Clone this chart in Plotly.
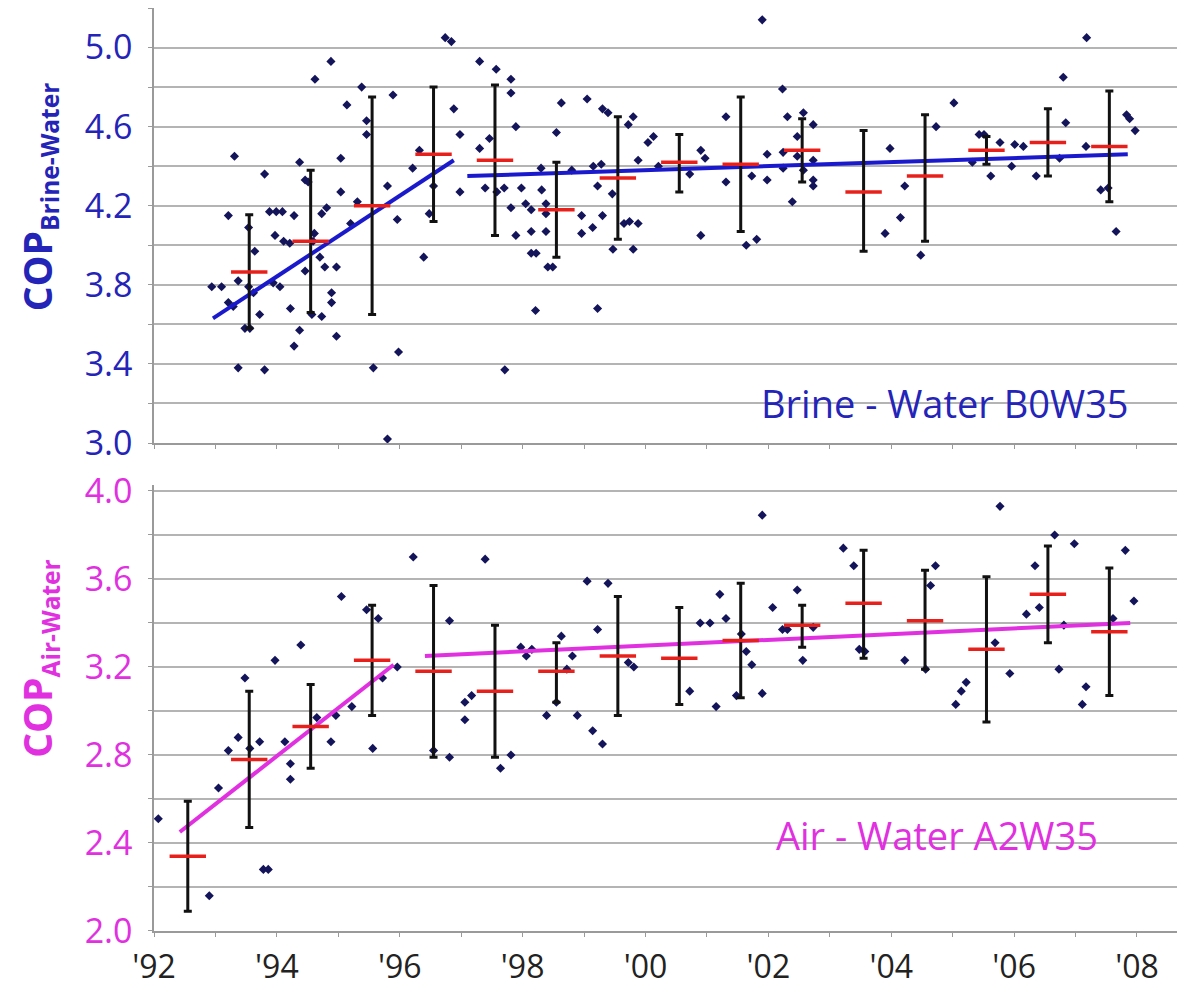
import plotly.graph_objects as go

# ---------------- data ----------------
# Brine-Water (top panel): individual test results (decimal year, COP)
bw_year = [1992.94, 1993.10, 1993.21, 1993.31, 1993.21, 1993.29, 1993.37, 1993.37, 1993.54, 1993.64,
           1993.54, 1993.62, 1993.48, 1993.56, 1993.72, 1993.80, 1993.80, 1993.88, 1993.99, 1994.09,
           1993.94, 1994.05, 1993.97, 1994.11, 1994.21, 1994.22, 1994.28, 1994.28, 1994.37, 1994.37,
           1994.46, 1994.51, 1994.46, 1994.61, 1994.59, 1994.62, 1994.57, 1994.73, 1994.73, 1994.81,
           1994.70, 1994.78, 1994.97, 1994.89, 1994.89, 1994.88, 1994.97, 1995.04, 1995.04, 1995.14,
           1995.20, 1995.31, 1995.38, 1995.46, 1995.46, 1995.57, 1995.80, 1995.80, 1995.89, 1995.96,
           1995.98, 1996.21, 1996.32, 1996.39, 1996.48, 1996.55, 1996.74, 1996.84, 1996.88, 1996.98,
           1996.98, 1997.30, 1997.30, 1997.39, 1997.46, 1997.57, 1997.58, 1997.70, 1997.81, 1997.81,
           1997.89, 1997.81, 1997.89, 1997.71, 1997.98, 1998.05, 1998.14, 1998.14, 1998.14, 1998.22,
           1998.21, 1998.30, 1998.31, 1998.38, 1998.38, 1998.41, 1998.49, 1998.38, 1998.63, 1998.55,
           1998.80, 1998.96, 1998.96, 1999.05, 1999.14, 1999.22, 1999.22, 1999.30, 1999.28, 1999.15,
           1999.30, 1999.39, 1999.46, 1999.47, 1999.65, 1999.74, 1999.88, 1999.72, 1999.80, 1999.80,
           1999.88, 2000.04, 2000.13, 2000.21, 2000.72, 2000.90, 2000.97, 2000.90, 2001.31, 2001.31,
           2001.64, 2001.81, 2001.73, 2001.90, 2001.98, 2001.98, 2002.23, 2002.31, 2002.39, 2002.47,
           2002.47, 2002.24, 2002.24, 2002.57, 2002.57, 2002.73, 2002.73, 2002.73, 2002.73, 2003.98,
           2004.22, 2004.15, 2003.90, 2004.48, 2004.73, 2005.02, 2005.32, 2005.43, 2005.51, 2005.62,
           2005.77, 2005.96, 2006.01, 2006.15, 2006.36, 2006.80, 2006.84, 2006.74, 2007.18, 2007.17,
           2007.41, 2007.53, 2007.66, 2007.83, 2007.88, 2007.97]
bw_cop = [3.79, 3.79, 4.15, 4.45, 3.71, 3.69, 3.38, 3.82, 4.09, 3.97,
          3.79, 3.76, 3.58, 3.58, 3.65, 4.36, 3.37, 4.17, 4.17, 4.17,
          3.81, 3.79, 4.05, 4.02, 4.01, 3.68, 4.15, 3.49, 4.42, 3.57,
          4.33, 4.32, 3.87, 4.06, 4.02, 4.84, 3.65, 3.64, 4.16, 4.19,
          3.94, 3.89, 3.89, 3.76, 3.71, 4.93, 3.54, 4.44, 4.27, 4.71,
          4.11, 4.22, 4.80, 4.63, 4.56, 3.38, 4.30, 3.02, 4.76, 4.13,
          3.46, 4.39, 4.48, 3.94, 4.16, 4.30, 5.05, 5.03, 4.69, 4.56,
          4.27, 4.93, 4.49, 4.29, 4.54, 4.89, 4.27, 4.29, 4.84, 4.77,
          4.60, 4.19, 4.05, 3.37, 4.29, 4.21, 4.18, 4.07, 3.96, 3.96,
          3.67, 4.39, 4.28, 4.21, 4.07, 3.89, 3.89, 4.16, 4.72, 4.57,
          4.38, 4.15, 4.06, 4.74, 4.09, 3.68, 4.30, 4.15, 4.41, 4.40,
          4.69, 4.67, 4.26, 3.98, 4.11, 4.12, 4.11, 4.61, 4.65, 3.98,
          4.43, 4.52, 4.55, 4.40, 4.36, 4.48, 4.44, 4.05, 4.65, 4.32,
          4.00, 4.03, 4.35, 5.14, 4.46, 4.33, 4.79, 4.65, 4.22, 4.55,
          4.45, 4.47, 4.39, 4.67, 4.38, 4.61, 4.43, 4.33, 4.30, 4.49,
          4.30, 4.14, 4.06, 3.95, 4.60, 4.72, 4.42, 4.56, 4.56, 4.35,
          4.52, 4.40, 4.51, 4.50, 4.35, 4.85, 4.62, 4.44, 5.05, 4.50,
          4.28, 4.29, 4.07, 4.66, 4.64, 4.58]

# Brine-Water yearly statistics
bw_stat_year = [1993.55, 1994.55, 1995.55, 1996.55, 1997.55, 1998.55, 1999.55, 2000.55,
                2001.55, 2002.55, 2003.55, 2004.55, 2005.55, 2006.55, 2007.55]
bw_mean = [3.865, 4.02, 4.20, 4.46, 4.43, 4.18, 4.34, 4.42, 4.41, 4.48, 4.27, 4.35, 4.48, 4.52, 4.50]
bw_upper = [4.155, 4.38, 4.75, 4.80, 4.81, 4.42, 4.65, 4.56, 4.75, 4.64, 4.58, 4.66, 4.55, 4.69, 4.78]
bw_lower = [3.58, 3.66, 3.65, 4.12, 4.05, 3.94, 4.03, 4.27, 4.07, 4.32, 3.97, 4.02, 4.41, 4.35, 4.22]

# Brine-Water trend lines (start, end)
bw_trend1_x = [1992.96, 1996.88]
bw_trend1_y = [3.63, 4.43]
bw_trend2_x = [1997.10, 2007.85]
bw_trend2_y = [4.35, 4.46]

# Air-Water (bottom panel): individual test results
aw_year = [1992.07, 1992.90, 1993.05, 1993.21, 1993.37, 1993.48, 1993.56, 1993.72, 1993.78, 1993.86,
           1993.97, 1994.13, 1994.22, 1994.22, 1994.39, 1994.65, 1994.88, 1994.96, 1995.05, 1995.22,
           1995.46, 1995.65, 1995.56, 1995.72, 1995.96, 1996.22, 1996.81, 1996.55, 1996.81, 1997.06,
           1997.17, 1997.06, 1997.39, 1997.64, 1997.81, 1997.97, 1998.06, 1998.15, 1998.39, 1998.55,
           1998.63, 1998.72, 1998.81, 1998.89, 1999.05, 1999.14, 1999.22, 1999.30, 1999.39, 1999.72,
           1999.81, 2000.72, 2000.89, 2001.05, 2001.15, 2001.21, 2001.31, 2001.48, 2001.56, 2001.64,
           2001.73, 2001.90, 2001.90, 2002.07, 2002.23, 2002.31, 2002.47, 2002.56, 2002.73, 2003.22,
           2003.39, 2003.48, 2003.57, 2004.22, 2004.56, 2004.64, 2004.72, 2005.05, 2005.14, 2005.22,
           2005.69, 2005.77, 2005.93, 2006.20, 2006.41, 2006.34, 2006.66, 2006.73, 2006.81, 2006.98,
           2007.11, 2007.17, 2007.61, 2007.81, 2007.95]
aw_cop = [2.51, 2.16, 2.65, 2.82, 2.88, 3.15, 2.83, 2.86, 2.28, 2.28,
          3.23, 2.86, 2.76, 2.69, 3.30, 2.97, 2.86, 2.98, 3.52, 3.02,
          3.46, 3.42, 2.83, 3.15, 3.20, 3.70, 3.41, 2.82, 2.79, 3.04,
          3.07, 2.96, 3.69, 2.74, 2.80, 3.29, 3.25, 3.28, 2.98, 3.04,
          3.34, 3.19, 3.25, 2.98, 3.59, 2.91, 3.37, 2.85, 3.58, 3.22,
          3.20, 3.09, 3.40, 3.40, 3.02, 3.53, 3.42, 3.07, 3.35, 3.27,
          3.21, 3.89, 3.08, 3.47, 3.37, 3.37, 3.55, 3.23, 3.38, 3.74,
          3.66, 3.28, 3.27, 3.23, 3.19, 3.57, 3.66, 3.03, 3.09, 3.13,
          3.31, 3.93, 3.17, 3.44, 3.47, 3.66, 3.80, 3.19, 3.39, 3.76,
          3.03, 3.11, 3.42, 3.73, 3.50]

# Air-Water yearly statistics
aw_stat_year = [1992.55, 1993.55, 1994.55, 1995.55, 1996.55, 1997.55, 1998.55, 1999.55,
                2000.55, 2001.55, 2002.55, 2003.55, 2004.55, 2005.55, 2006.55, 2007.55]
aw_mean = [2.34, 2.78, 2.93, 3.23, 3.18, 3.09, 3.18, 3.25, 3.24, 3.32, 3.39, 3.49, 3.41, 3.28, 3.53, 3.36]
aw_upper = [2.59, 3.09, 3.12, 3.48, 3.57, 3.39, 3.31, 3.52, 3.47, 3.58, 3.48, 3.73, 3.64, 3.61, 3.75, 3.65]
aw_lower = [2.09, 2.47, 2.74, 2.98, 2.79, 2.79, 3.04, 2.98, 3.03, 3.06, 3.29, 3.24, 3.19, 2.95, 3.31, 3.07]

# Air-Water trend lines
aw_trend1_x = [1992.42, 1995.90]
aw_trend1_y = [2.45, 3.21]
aw_trend2_x = [1996.41, 2007.89]
aw_trend2_y = [3.25, 3.40]

# axis ticks (labelled major ticks + unlabelled minor ticks)
year_ticks = [1992, 1994, 1996, 1998, 2000, 2002, 2004, 2006, 2008]
year_labels = ["'92", "'94", "'96", "'98", "'00", "'02", "'04", "'06", "'08"]
year_minor = [1993, 1995, 1997, 1999, 2001, 2003, 2005, 2007]
bw_ticks = [3.0, 3.4, 3.8, 4.2, 4.6, 5.0]
bw_labels = ["3.0", "3.4", "3.8", "4.2", "4.6", "5.0"]
bw_minor = [3.2, 3.6, 4.0, 4.4, 4.8, 5.2]
aw_ticks = [2.0, 2.4, 2.8, 3.2, 3.6, 4.0]
aw_labels = ["2.0", "2.4", "2.8", "3.2", "3.6", "4.0"]
aw_minor = [2.2, 2.6, 3.0, 3.4, 3.8]

# ---------------- styling ----------------
FONT = "Open Sans"
BLUE = "#2424b8"
LINE_BLUE = "#1a1acc"
MAGENTA = "#e030e0"
DOT = "#14145a"
RED = "#e8201c"
GRID = "#b4b4b4"
AXIS = "#9a9a9a"

fig = go.Figure()


def add_panel(xa, ya, yr, val, sy, smean, sup, slo, t1x, t1y, t2x, t2y, lcolor):
    fig.add_trace(go.Scatter(x=yr, y=val, mode="markers", xaxis=xa, yaxis=ya,
                             marker=dict(symbol="diamond", size=7, color=DOT),
                             showlegend=False, hoverinfo="x+y"))
    for tx, ty in ((t1x, t1y), (t2x, t2y)):
        fig.add_trace(go.Scatter(x=tx, y=ty, mode="lines", xaxis=xa, yaxis=ya,
                                 line=dict(color=lcolor, width=4), showlegend=False))
    fig.add_trace(go.Scatter(
        x=sy, y=smean, mode="markers", xaxis=xa, yaxis=ya,
        marker=dict(size=1, color="rgba(0,0,0,0)"),
        error_y=dict(type="data", symmetric=False,
                     array=[u - m for u, m in zip(sup, smean)],
                     arrayminus=[m - l for m, l in zip(smean, slo)],
                     color="#111111", thickness=3, width=4),
        showlegend=False))
    fig.add_trace(go.Scatter(x=sy, y=smean, mode="markers", xaxis=xa, yaxis=ya,
                             marker=dict(symbol="line-ew", size=26,
                                         line=dict(color=RED, width=3.5)),
                             showlegend=False))


add_panel("x", "y", bw_year, bw_cop, bw_stat_year, bw_mean, bw_upper, bw_lower,
          bw_trend1_x, bw_trend1_y, bw_trend2_x, bw_trend2_y, LINE_BLUE)
add_panel("x2", "y2", aw_year, aw_cop, aw_stat_year, aw_mean, aw_upper, aw_lower,
          aw_trend1_x, aw_trend1_y, aw_trend2_x, aw_trend2_y, MAGENTA)

xcommon = dict(range=[1992, 2008.70], tickmode="array", tickvals=year_ticks, ticktext=year_labels,
               showgrid=False, zeroline=False, showline=True, linecolor=AXIS, linewidth=1.5,
               ticks="outside", ticklen=4, tickcolor=AXIS, automargin=False,
               minor=dict(tickmode="array", tickvals=year_minor, ticks="outside", ticklen=4,
                          tickcolor=AXIS, showgrid=False))


def ycommon(minor_vals):
    return dict(showgrid=True, gridcolor=GRID, gridwidth=1.8, zeroline=False,
                showline=True, linecolor=AXIS, linewidth=1.5, automargin=False,
                ticks="outside", ticklen=4, tickcolor=AXIS, ticklabelstandoff=9,
                tickmode="array",
                minor=dict(tickmode="array", tickvals=minor_vals, ticks="outside", ticklen=4,
                           tickcolor=AXIS, showgrid=True, gridcolor=GRID, gridwidth=1.8))


# the page body adds an 8px offset, so the figure is 8px smaller than the window
fig.update_layout(
    width=1177, height=983,
    margin=dict(l=146, r=5, t=0, b=60, autoexpand=False),
    paper_bgcolor="white", plot_bgcolor="white",
    font=dict(family=FONT),
    xaxis=dict(domain=[0, 1], anchor="y", showticklabels=False, **xcommon),
    yaxis=dict(domain=[0.5287, 1], anchor="x", range=[3.0, 5.2], tickvals=bw_ticks,
               ticktext=bw_labels, tickfont=dict(size=34, color=BLUE, family=FONT), **ycommon(bw_minor)),
    xaxis2=dict(domain=[0, 1], anchor="y2", showticklabels=True,
                tickfont=dict(size=32, color="#222222", family=FONT), ticklabelstandoff=3, **xcommon),
    yaxis2=dict(domain=[0, 0.4832], anchor="x2", range=[2.0, 4.027], tickvals=aw_ticks,
                ticktext=aw_labels, tickfont=dict(size=34, color=MAGENTA, family=FONT), **ycommon(aw_minor)),
    showlegend=False,
)

fig.add_annotation(text="<b><span style='font-size:39px'>COP</span><sub>Brine-Water</sub></b>",
                   xref="paper", yref="paper",
                   x=-0.113, y=0.795, xanchor="center", yanchor="middle", textangle=-90,
                   showarrow=False, font=dict(size=35, color=BLUE, family=FONT))
fig.add_annotation(text="<b><span style='font-size:39px'>COP</span><sub>Air-Water</sub></b>",
                   xref="paper", yref="paper",
                   x=-0.113, y=0.295, xanchor="center", yanchor="middle", textangle=-90,
                   showarrow=False, font=dict(size=35, color=MAGENTA, family=FONT))
fig.add_annotation(text="Brine - Water B0W35", xref="x", yref="y", x=2004.87, y=3.20,
                   xanchor="center", yanchor="middle", showarrow=False,
                   font=dict(size=38, color=BLUE, family=FONT))
fig.add_annotation(text="Air - Water A2W35", xref="x2", yref="y2", x=2004.75, y=2.435,
                   xanchor="center", yanchor="middle", showarrow=False,
                   font=dict(size=38, color=MAGENTA, family=FONT))

fig.write_html("out.html")
